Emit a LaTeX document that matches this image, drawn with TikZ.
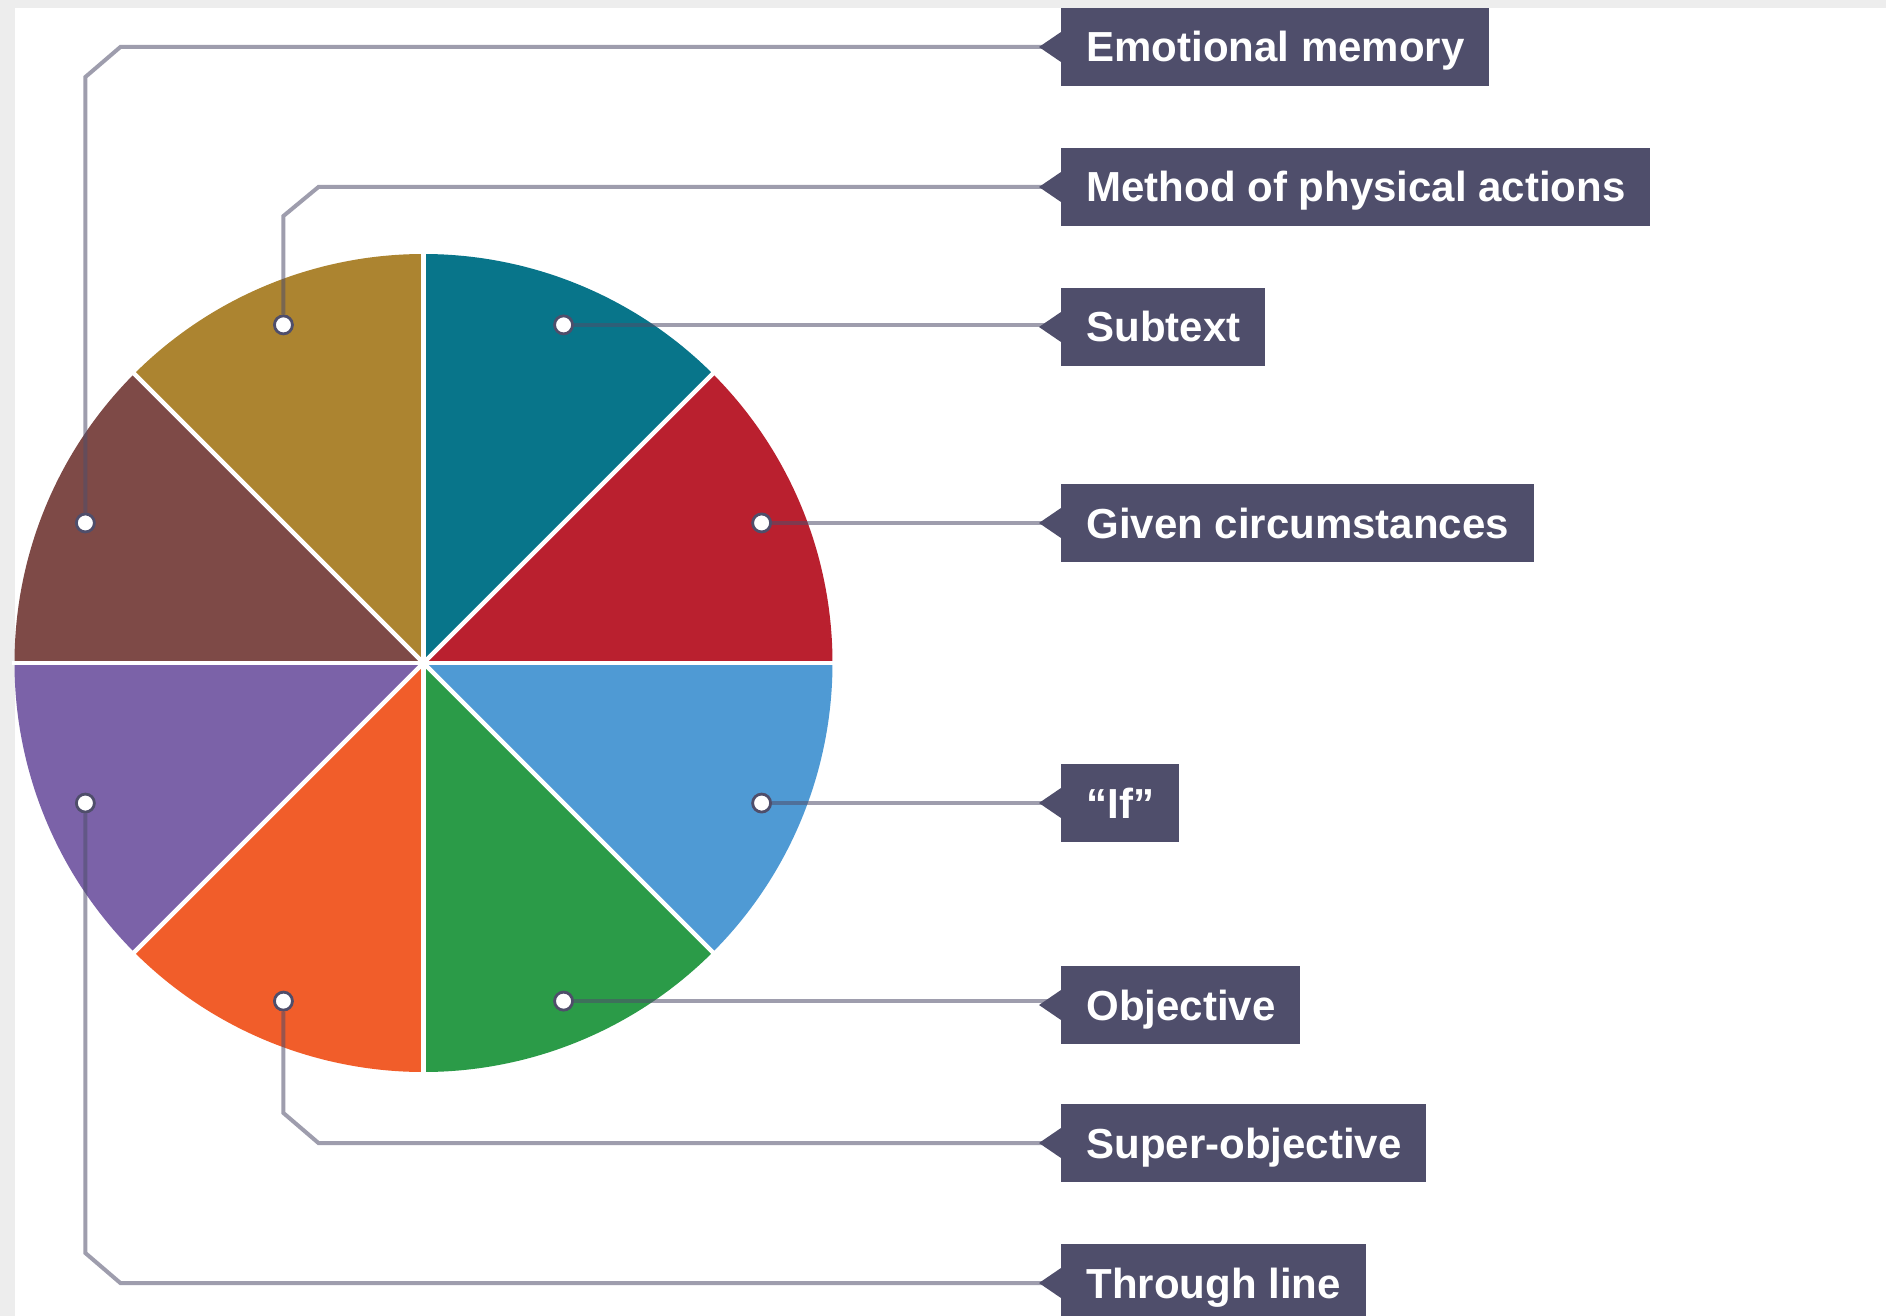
\documentclass[tikz,border=0pt]{standalone}
\usepackage{fontspec}
\setmainfont{Liberation Sans}
\usetikzlibrary{calc}

\definecolor{tagcol}{RGB}{79,78,107}
\definecolor{pieRed}{RGB}{186,32,47}
\definecolor{pieTeal}{RGB}{8,117,138}
\definecolor{pieGold}{RGB}{172,132,48}
\definecolor{pieBrown}{RGB}{126,74,71}
\definecolor{piePurple}{RGB}{123,98,168}
\definecolor{pieOrange}{RGB}{241,93,42}
\definecolor{pieGreen}{RGB}{43,155,72}
\definecolor{pieBlue}{RGB}{79,154,212}

\begin{document}
\begin{tikzpicture}[x=0.5pt,y=-0.5pt,
  tag/.style={fill=tagcol,text=white,font=\fontsize{21}{25}\selectfont\bfseries,
    anchor=west,minimum height=39pt,inner xsep=12.5pt,inner ysep=0pt,
    text height=15pt,text depth=0pt},
  dot/.style={circle,draw=tagcol,fill=white,line width=1.4pt,minimum size=9pt,inner sep=0pt},
  link/.style={draw=tagcol,draw opacity=0.55,line width=2pt}]
	\fill[black!7] (0,0) rectangle (1886,1316);
	\fill[white] (15,8) rectangle (1886,1316);
	\useasboundingbox (0,0) rectangle (1886,1316);
	% the wheel
	\begin{scope}[shift={(423.5,663)},yscale=-1]
	\foreach \a/\c in {0/pieRed,45/pieTeal,90/pieGold,135/pieBrown,180/piePurple,225/pieOrange,270/pieGreen,315/pieBlue}
		\fill[\c] (0,0) -- (\a:409) arc[start angle=\a,delta angle=45,radius=409] -- cycle;
	\foreach \a in {0,45,90,135}
		\draw[white,line width=2.2pt] (\a:412) -- (\a+180:412);
	\foreach \n/\a in {d1/157.5,d2/112.5,d3/67.5,d4/22.5,d5/-22.5,d6/-67.5,d7/-112.5,d8/-157.5}
		\node[dot] (\n) at (\a:366) {};
	\end{scope}
	% labels
	\node[tag] (m1) at (1061,47)   {Emotional memory};
	\node[tag] (m2) at (1061,187)  {Method of physical actions};
	\node[tag] (m3) at (1061,327)  {Subtext};
	\node[tag] (m4) at (1061,523)  {Given circumstances};
	\node[tag] (m5) at (1061,803)  {“If”};
	\node[tag] (m6) at (1061,1005) {Objective};
	\node[tag] (m7) at (1061,1143) {Super-objective};
	\node[tag] (m8) at (1061,1283) {Through line};
	\foreach \m in {m1,m2,m3,m4,m5,m6,m7,m8}
		\fill[tagcol] (\m.west) ++(0,-15) -- ++(-22,15) -- ++(22,15) -- cycle;
	% connectors
	\draw[link] (d1) -- ($(d1 |- m1.west)+(0,30)$) -- ($(d1 |- m1.west)+(35,0)$) -- (m1.west);
	\draw[link] (d2) -- ($(d2 |- m2.west)+(0,29)$) -- ($(d2 |- m2.west)+(35,0)$) -- (m2.west);
	\draw[link] (d3) -- (d3 -| m3.west);
	\draw[link] (d4) -- (d4 -| m4.west);
	\draw[link] (d5) -- (d5 -| m5.west);
	\draw[link] (d6) -- (d6 -| m6.west);
	\draw[link] (d7) -- ($(d7 |- m7.west)+(0,-30)$) -- ($(d7 |- m7.west)+(35,0)$) -- (m7.west);
	\draw[link] (d8) -- ($(d8 |- m8.west)+(0,-30)$) -- ($(d8 |- m8.west)+(35,0)$) -- (m8.west);
\end{tikzpicture}
\end{document}
